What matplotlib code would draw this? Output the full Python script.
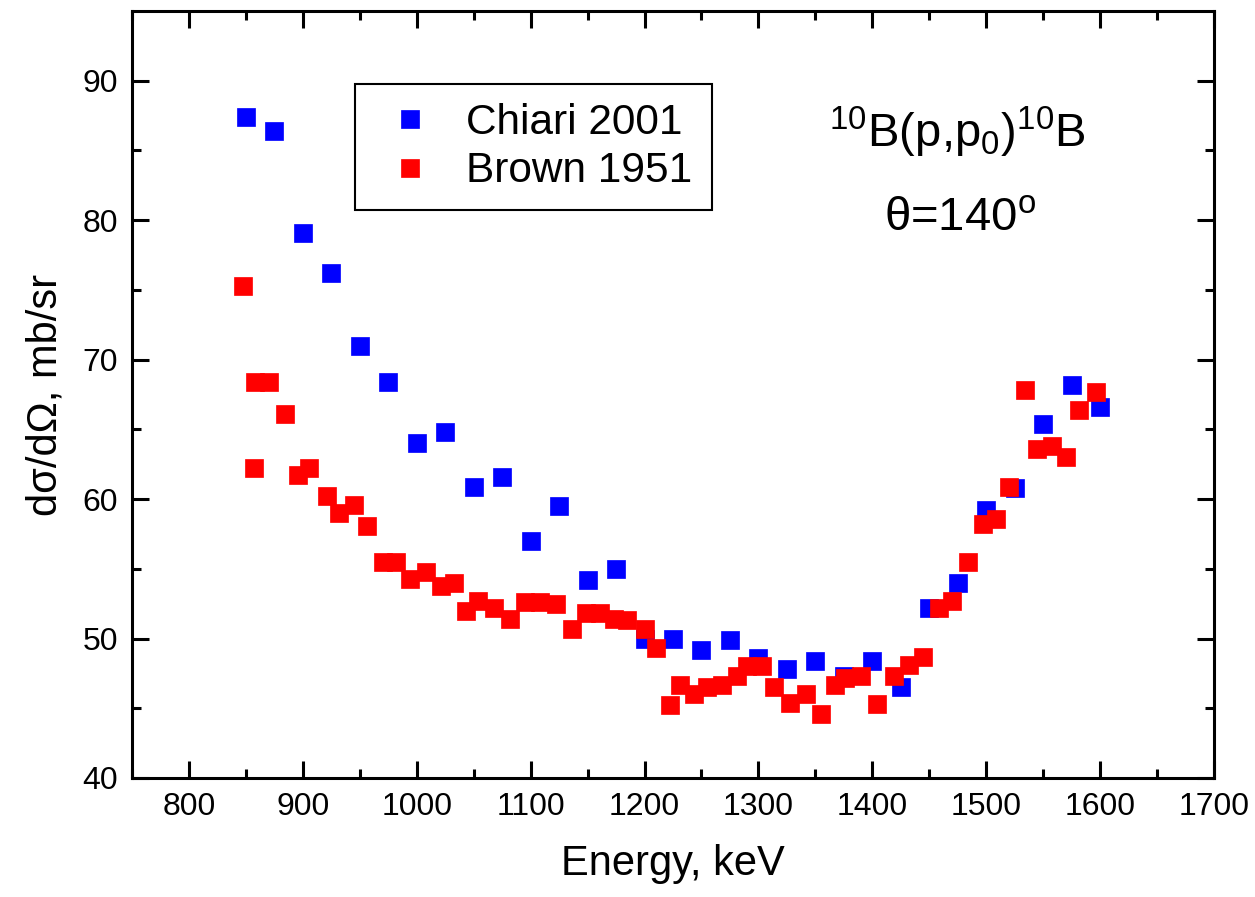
import numpy as np
import matplotlib
matplotlib.use("Agg")
import matplotlib.pyplot as plt

plt.rcParams['font.family'] = ['Liberation Sans', 'DejaVu Sans']
plt.rcParams['mathtext.fontset'] = 'custom'
plt.rcParams['mathtext.rm'] = 'Liberation Sans'
plt.rcParams['mathtext.it'] = 'Liberation Sans:italic'
plt.rcParams['mathtext.default'] = 'rm'

# Chiari 2001
chiari_e = [850, 875, 900, 925, 950, 975, 1000, 1025, 1050, 1075, 1100, 1125,
            1150, 1175, 1200, 1225, 1250, 1275, 1300, 1325, 1350, 1375, 1400,
            1425, 1450, 1475, 1500, 1525, 1550, 1575, 1600]
chiari_y = [87.4, 86.4, 79.1, 76.2, 71.0, 68.4, 64.0, 64.8, 60.9, 61.6, 57.0, 59.5,
            54.2, 55.0, 50.0, 50.0, 49.2, 49.9, 48.6, 47.8, 48.4, 47.3, 48.4,
            46.5, 52.2, 54.0, 59.2, 60.8, 65.4, 68.2, 66.6]

# Brown 1951
brown_e = [847.6, 857.3, 857.6, 869.9, 883.9, 895.9, 905.6, 921.6, 931.3, 944.7,
           956.7, 970.4, 982.2, 993.9, 1008.2, 1021, 1033, 1043.3, 1053.8, 1067.8,
           1081.9, 1095, 1108, 1122, 1136, 1149, 1160.8, 1173, 1184.2, 1200,
           1209.9, 1222.2, 1231, 1243.3, 1255, 1267.8, 1281, 1290, 1303.2, 1314,
           1328, 1342, 1355, 1367, 1375.7, 1390.4, 1404, 1418.7, 1431.8, 1444.4,
           1458.5, 1470, 1484.2, 1497.4, 1508.2, 1520.2, 1534.5, 1544.5, 1558.2,
           1570.2, 1581.3, 1596.5]
brown_y = [75.3, 62.2, 68.4, 68.4, 66.1, 61.7, 62.2, 60.2, 59.0, 59.6,
           58.1, 55.5, 55.5, 54.3, 54.8, 53.8, 54.0, 52.0, 52.7, 52.2,
           51.4, 52.6, 52.6, 52.5, 50.7, 51.8, 51.8, 51.4, 51.3, 50.7,
           49.3, 45.2, 46.7, 46.0, 46.5, 46.7, 47.3, 48.0, 48.0, 46.5,
           45.4, 46.0, 44.6, 46.7, 47.2, 47.3, 45.3, 47.3, 48.1, 48.7,
           52.2, 52.7, 55.5, 58.2, 58.6, 60.9, 67.8, 63.6, 63.8,
           63.0, 66.4, 67.7]

fig = plt.figure(figsize=(12.55, 8.97), dpi=100)
ax = fig.add_axes([0.1052, 0.1327, 0.8621, 0.855])

ax.plot(chiari_e, chiari_y, ls='none', marker='s', ms=13, color='#0000ff',
        mec='#0000ff', mew=0.5, label='Chiari 2001')
ax.plot(brown_e, brown_y, ls='none', marker='s', ms=13, color='#ff0000',
        mec='#ff0000', mew=0.5, label='Brown 1951')

ax.set_xlim(750, 1700)
ax.set_ylim(40, 95)
ax.set_xticks(np.arange(800, 1701, 100))
ax.set_xticks(np.arange(750, 1700, 50), minor=True)
ax.set_yticks(np.arange(40, 91, 10))
ax.set_yticks(np.arange(45, 95, 5), minor=True)
ax.tick_params(which='both', direction='in', top=True, right=True, width=2.2)
ax.tick_params(which='major', length=12, labelsize=23, pad=10)
ax.tick_params(which='minor', length=6.5)
for s in ax.spines.values():
    s.set_linewidth(2.2)

ax.set_xlabel('Energy, keV', fontsize=30, labelpad=16)
ax.set_ylabel('dσ/dΩ, mb/sr', fontsize=30, labelpad=12)

leg = ax.legend(loc='upper left', bbox_to_anchor=(0.206, 0.905), fontsize=30.5,
                numpoints=1, handlelength=1.7, handletextpad=0.48,
                borderpad=0.45, labelspacing=0.2, fancybox=False,
                framealpha=1, edgecolor='black', borderaxespad=0)
leg.get_frame().set_linewidth(1.5)

ax.text(1475, 86.3, r'$^{10}$B(p,p$_0$)$^{10}$B', fontsize=34,
        ha='center', va='center')
ax.text(1477, 80.1, r'θ=140$^{\mathrm{o}}$', fontsize=34,
        ha='center', va='center')

fig.savefig('out.png', dpi=100)
